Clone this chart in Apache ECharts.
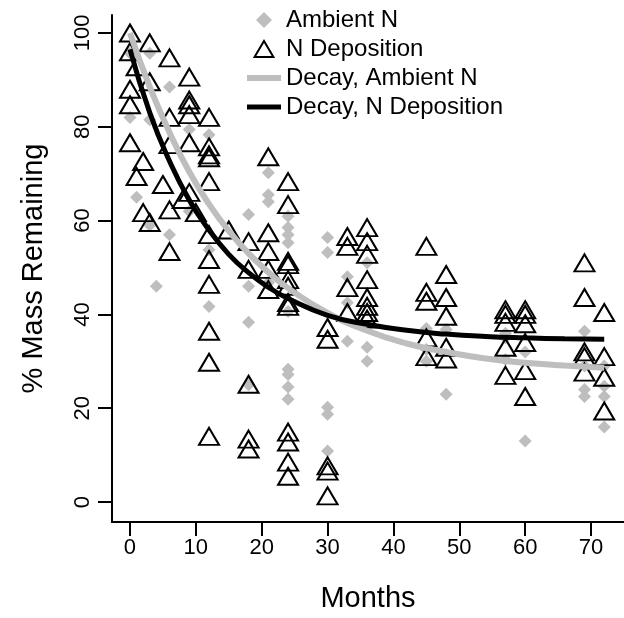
<!DOCTYPE html>
<html>
<head>
<meta charset="utf-8">
<script src="https://cdn.jsdelivr.net/npm/echarts@6/dist/echarts.min.js"></script>
<style>
  html, body { margin: 0; padding: 0; background: #fff; }
  #chart { width: 624px; height: 618px; }
</style>
</head>
<body>
<div id="chart"></div>
<script>
// tick labels
const xTicks = [0, 10, 20, 30, 40, 50, 60, 70]
const yTicks = [0, 20, 40, 60, 80, 100]

// Ambient N litter bags: [month, % mass remaining]
const ambientN = [
  [0, 95.7], [0, 82], [1, 65], [3, 95.7], [3, 81.5], [3, 59], [4, 46],
  [6, 88.5], [6, 57], [9, 79.4], [9, 62], [12, 78.3], [12, 53.8], [12, 41.7],
  [18, 61.3], [18, 46], [18, 38.3], [18, 25],
  [21, 70.2], [21, 65.5], [21, 64], [21, 46.8],
  [24, 60.9], [24, 58.5], [24, 57], [24, 55.3], [24, 40.6], [24, 28.3], [24, 27.2], [24, 24.5], [24, 21.9],
  [30, 56.4], [30, 53.2], [30, 20.2], [30, 18.7], [30, 10.9],
  [33, 48], [33, 42.5], [33, 34.3],
  [36, 51], [36, 33], [36, 30],
  [45, 37], [45, 32.5], [45, 30],
  [48, 36.8], [48, 23],
  [57, 36], [57, 35], [57, 30.4],
  [60, 32], [60, 13],
  [69, 36.4], [69, 29], [69, 24], [69, 22.5],
  [72, 29], [72, 24.7], [72, 22.5], [72, 16]
]

// N Deposition litter bags
const nDeposition = [
  [0, 100], [0, 96], [0, 88], [0, 84.7], [0, 76.6],
  [1, 92.8], [1, 69.4],
  [2, 72.6], [2, 61.7],
  [3, 97.9], [3, 89.6], [3, 59.6],
  [5, 67.7],
  [6, 94.7], [6, 82], [6, 76.2], [6, 62.3], [6, 53.4],
  [8, 64.5],
  [9, 90.6], [9, 85.7], [9, 84.7], [9, 82.6], [9, 76.6], [9, 66],
  [10, 61.7],
  [12, 82], [12, 75.7], [12, 74], [12, 73.4], [12, 68.3], [12, 57], [12, 51.7], [12, 46.4], [12, 36.4], [12, 29.8], [12, 14],
  [15, 58],
  [18, 55.5], [18, 49.6], [18, 25.1], [18, 13.4], [18, 11.3],
  [21, 73.6], [21, 57.4], [21, 53.4], [21, 49.6], [21, 45.3],
  [24, 68.3], [24, 63.4], [24, 51.3], [24, 50.6], [24, 47.4], [24, 46], [24, 42.5], [24, 41.7], [24, 14.9], [24, 12.8], [24, 8.5], [24, 5.5],
  [30, 37.2], [30, 34.7], [30, 7.7], [30, 6.6], [30, 1.3],
  [33, 56.6], [33, 54.5], [33, 45.7], [33, 40.4],
  [36, 58.5], [36, 55.5], [36, 52.8], [36, 47.4], [36, 43.6], [36, 41.7], [36, 40.4], [36, 39],
  [45, 54.5], [45, 44.7], [45, 42.8], [45, 35], [45, 31],
  [48, 48.5], [48, 43.6], [48, 39.6], [48, 33], [48, 30.5],
  [57, 41], [57, 40], [57, 38.3], [57, 33], [57, 27],
  [60, 41], [60, 40], [60, 38], [60, 34], [60, 28], [60, 22.5],
  [69, 51], [69, 43.6], [69, 32], [69, 31], [69, 27.7],
  [72, 40.4], [72, 31], [72, 26.6], [72, 19.4]
]

// fitted decay curves
const curveMonths = [0, 3, 6, 9, 12, 15, 18, 21, 24, 30, 36, 42, 48, 54, 60, 66, 72]
const decayAmbient = [100, 88.5, 78.8, 70.4, 63.5, 57.8, 53, 49, 45.6, 40.3, 36.5, 33.8, 32, 30.6, 29.7, 29.1, 28.6]
const decayDeposition = [96.5, 83, 72.7, 64.4, 58, 52.8, 48.9, 45.8, 43.4, 39.8, 37.9, 36.6, 35.8, 35.3, 35, 34.8, 34.7]

const FONT = '"Liberation Sans", Arial, sans-serif'
const GRAY = '#bebebe'

const chart = echarts.init(document.getElementById('chart'))

const zip = (xs, ys) => xs.map((x, i) => [x, ys[i]])

const axisCommon = {
  type: 'value',
  splitLine: { show: false },
  axisLine: { show: true, onZero: false, lineStyle: { color: '#000', width: 2 } },
  axisTick: { show: true, length: 14, lineStyle: { color: '#000', width: 2 } },
  nameLocation: 'middle',
  nameTextStyle: { color: '#000', fontSize: 29, fontFamily: FONT }
}

chart.setOption({
  animation: false,
  backgroundColor: '#fff',
  grid: { left: 112, right: 0, top: 15, bottom: 95 },
  legend: {
    orient: 'vertical',
    left: 242,
    top: 3,
    itemWidth: 34,
    itemHeight: 16,
    itemGap: 5,
    textStyle: { color: '#000', fontSize: 24, fontFamily: FONT, lineHeight: 24 },
    data: [
      { name: 'Ambient N', icon: 'path://M6,0 L12,6 L6,12 L0,6 Z' },
      { name: 'N Deposition', icon: 'path://M10,0 L20,17 L0,17 Z' },
      { name: 'Decay, Ambient N', icon: 'path://M0,0 H34 V6 H0 Z' },
      { name: 'Decay, N Deposition', icon: 'path://M0,0 H34 V5 H0 Z' }
    ]
  },
  xAxis: {
    ...axisCommon,
    min: -2.73,
    max: 75,
    name: 'Months',
    nameGap: 62,
    axisTick: { ...axisCommon.axisTick, customValues: xTicks },
    axisLabel: { customValues: xTicks, color: '#000', fontSize: 22, fontFamily: FONT, margin: 15 }
  },
  yAxis: {
    ...axisCommon,
    min: -4.26,
    max: 103.83,
    name: '% Mass Remaining',
    nameRotate: 90,
    nameGap: 64,
    axisTick: { ...axisCommon.axisTick, customValues: yTicks },
    axisLabel: { customValues: yTicks, rotate: 90, color: '#000', fontSize: 22, fontFamily: FONT, margin: 18 }
  },
  series: [
    {
      name: 'Ambient N',
      type: 'scatter',
      symbol: 'diamond',
      symbolSize: 13,
      itemStyle: { color: GRAY, opacity: 1 },
      data: ambientN,
      z: 2
    },
    {
      name: 'N Deposition',
      type: 'scatter',
      symbol: 'triangle',
      symbolSize: [20, 17],
      itemStyle: { color: 'rgba(255,255,255,0)', borderColor: '#000', borderWidth: 2, opacity: 1 },
      data: nDeposition,
      z: 3
    },
    {
      name: 'Decay, Ambient N',
      type: 'line',
      smooth: true,
      symbol: 'none',
      lineStyle: { color: GRAY, width: 6 },
      itemStyle: { color: GRAY },
      data: zip(curveMonths, decayAmbient),
      z: 4
    },
    {
      name: 'Decay, N Deposition',
      type: 'line',
      smooth: true,
      symbol: 'none',
      lineStyle: { color: '#000', width: 5 },
      itemStyle: { color: '#000' },
      data: zip(curveMonths, decayDeposition),
      z: 5
    }
  ]
})
</script>
</body>
</html>
